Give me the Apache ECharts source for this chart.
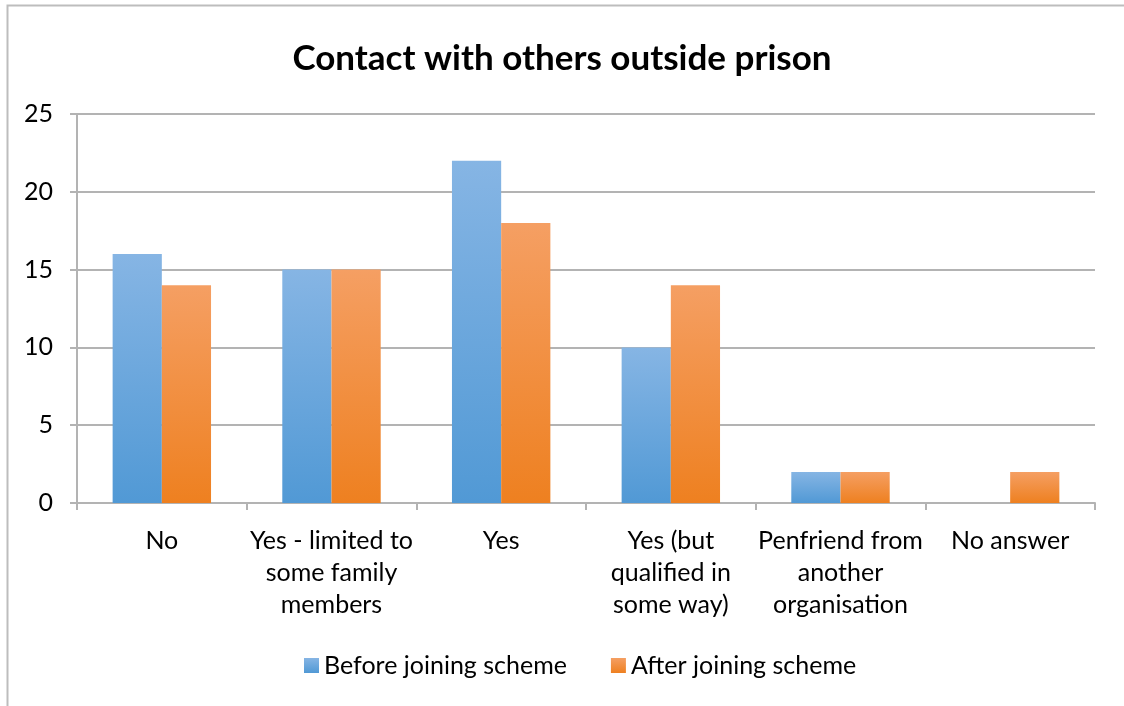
<!DOCTYPE html>
<html>
<head>
<meta charset="utf-8">
<script src="https://cdn.jsdelivr.net/npm/echarts@6/dist/echarts.min.js"></script>
<style>
  html, body { margin: 0; padding: 0; background: #fff; }
  #chart { width: 1124px; height: 706px; }
</style>
</head>
<body>
<div id="chart"></div>
<script>
// categories (line breaks as in the original)
const categories = [
  'No',
  'Yes - limited to\nsome family\nmembers',
  'Yes',
  'Yes (but\nqualified in\nsome way)',
  'Penfriend from\nanother\norganisation',
  'No answer'
]
const seriesNames = ['Before joining scheme', 'After joining scheme']
const beforeValues = [16, 15, 22, 10, 2, 0]
const afterValues = [14, 15, 18, 14, 2, 2]

const font = 'Lato, "Open Sans", sans-serif'

function grad(top, bottom) {
  return new echarts.graphic.LinearGradient(0, 0, 0, 1, [
    { offset: 0, color: top },
    { offset: 1, color: bottom }
  ])
}

const myChart = echarts.init(document.getElementById('chart'), null, { renderer: 'canvas' })

myChart.setOption({
  animation: false,
  title: {
    text: 'Contact with others outside prison',
    left: 'center',
    top: 36,
    textStyle: {
      fontFamily: font,
      fontWeight: 'bold',
      fontSize: 35,
      color: '#000'
    }
  },
  graphic: [{
    type: 'rect',
    shape: { x: 7.5, y: 5.5, width: 1130, height: 720 },
    style: { fill: 'none', stroke: '#bdbdbd', lineWidth: 2 },
    silent: true
  }],
  legend: {
    data: seriesNames,
    top: 648,
    left: 299,
    itemWidth: 15,
    itemHeight: 15,
    itemGap: 44,
    icon: 'rect',
    textStyle: { fontFamily: font, fontSize: 25, color: '#000' }
  },
  grid: {
    left: 77,
    right: 29,
    top: 114,
    bottom: 203
  },
  xAxis: {
    type: 'category',
    data: categories,
    axisLine: { lineStyle: { color: '#b3b3b3', width: 2 } },
    axisTick: { show: true, length: 7, lineStyle: { color: '#b3b3b3', width: 2 } },
    axisLabel: {
      color: '#000',
      fontFamily: font,
      fontSize: 25,
      lineHeight: 32,
      margin: 22,
      interval: 0
    }
  },
  yAxis: {
    type: 'value',
    min: 0,
    max: 25,
    interval: 5,
    axisLine: { show: true, lineStyle: { color: '#b3b3b3', width: 2 } },
    axisTick: { show: true, length: 7, lineStyle: { color: '#b3b3b3', width: 2 } },
    axisLabel: { color: '#000', fontFamily: font, fontSize: 25, margin: 24 },
    splitLine: { show: true, lineStyle: { color: '#b3b3b3', width: 2 } }
  },
  series: [
    {
      name: seriesNames[0],
      type: 'bar',
      data: beforeValues,
      barGap: '0%',
      barCategoryGap: '42%',
      itemStyle: { color: grad('#86b5e4', '#5199d5') }
    },
    {
      name: seriesNames[1],
      type: 'bar',
      data: afterValues,
      barGap: '0%',
      barCategoryGap: '42%',
      itemStyle: { color: grad('#f59f63', '#ee8020') }
    }
  ]
})
</script>
</body>
</html>
